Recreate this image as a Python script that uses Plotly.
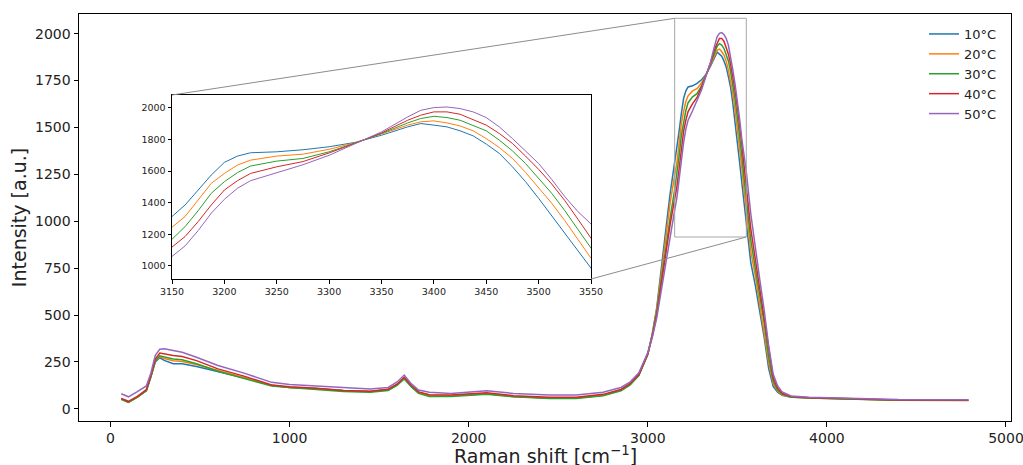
import plotly.graph_objects as go

# ---------------- data ----------------
labels = ["10°C", "20°C", "30°C", "40°C", "50°C"]
colors = ["#1f77b4", "#ff7f0e", "#2ca02c", "#d62728", "#9467bd"]

x_left = [60, 100, 150, 200, 225, 250, 275, 300, 350, 400, 480, 600, 750, 900, 1000,
          1150, 1300, 1450, 1550, 1600, 1640, 1680, 1720, 1780, 1900, 2100, 2250, 2450,
          2600, 2750, 2850, 2900, 2950, 3000, 3025, 3050, 3075, 3100, 3125]
x_zoom = [3150, 3162.5, 3175, 3187.5, 3200, 3212.5, 3225, 3250, 3275, 3300, 3325, 3350,
          3375, 3387.5, 3400, 3412.5, 3425, 3437.5, 3450, 3462.5, 3475, 3487.5, 3500,
          3512.5, 3525, 3537.5, 3550]
x_right = [3575, 3600, 3625, 3650, 3675, 3700, 3725, 3750, 3800, 3900, 4100, 4400, 4790]

y10_left = [52, 36, 62, 98, 170, 250, 272, 258, 240, 240, 226, 200, 164, 125, 113, 108, 97, 92,
            103, 130, 165, 122, 88, 72, 70, 80, 66, 58, 58, 72, 100, 130, 180, 290, 400, 540,
            730, 950, 1150]
y20_left = [52, 36, 62, 98, 172, 255, 278, 268, 256, 252, 236, 204, 166, 125, 113, 107, 96, 91,
            102, 129, 164, 121, 87, 71, 70, 80, 66, 58, 58, 72, 100, 130, 180, 292, 398, 530,
            715, 920, 1100]
y30_left = [50, 34, 62, 96, 170, 255, 283, 276, 266, 261, 240, 200, 163, 122, 113, 104, 92, 88,
            98, 125, 159, 116, 82, 66, 66, 78, 64, 55, 55, 70, 96, 126, 177, 292, 392, 515,
            690, 860, 1020]
y40_left = [55, 40, 66, 102, 176, 265, 297, 292, 284, 279, 257, 213, 173, 127, 118, 110, 98, 93,
            104, 131, 168, 124, 90, 75, 74, 86, 70, 62, 62, 77, 103, 134, 183, 294, 388, 500,
            665, 835, 985]
y50_left = [80, 64, 92, 122, 190, 285, 318, 320, 311, 302, 275, 231, 189, 141, 130, 123, 114, 105,
            114, 143, 180, 133, 100, 88, 82, 96, 82, 73, 73, 88, 114, 142, 192, 300, 380, 485,
            630, 790, 935]

y10_zoom = [1312, 1385, 1480, 1575, 1655, 1695, 1716, 1722, 1735, 1754, 1782, 1827, 1880, 1901,
            1891, 1880, 1855, 1823, 1771, 1712, 1627, 1533, 1427, 1316, 1206, 1101, 985]
y20_zoom = [1244, 1312, 1417, 1522, 1585, 1638, 1669, 1695, 1707, 1738, 1780, 1834, 1891, 1912,
            1918, 1905, 1886, 1855, 1806, 1749, 1680, 1592, 1497, 1396, 1286, 1164, 1048]
y30_zoom = [1168, 1248, 1349, 1459, 1533, 1590, 1632, 1663, 1680, 1722, 1778, 1838, 1905, 1933,
            1947, 1939, 1922, 1891, 1855, 1796, 1728, 1648, 1554, 1459, 1349, 1227, 1112]
y40_zoom = [1118, 1185, 1280, 1385, 1480, 1539, 1585, 1627, 1660, 1715, 1776, 1842, 1922, 1954,
            1975, 1975, 1960, 1926, 1891, 1838, 1775, 1695, 1611, 1518, 1413, 1295, 1175]
y50_zoom = [1059, 1126, 1223, 1333, 1421, 1491, 1539, 1589, 1640, 1700, 1774, 1848, 1943, 1985,
            2002, 2006, 1996, 1975, 1939, 1880, 1806, 1728, 1648, 1547, 1438, 1343, 1265]

y10_right = [780, 660, 520, 380, 215, 120, 88, 72, 62, 58, 54, 46, 45]
y20_right = [840, 710, 560, 420, 245, 135, 95, 75, 63, 58, 54, 46, 45]
y30_right = [900, 750, 600, 455, 275, 150, 100, 78, 63, 57, 52, 45, 44]
y40_right = [960, 800, 640, 485, 300, 165, 110, 83, 65, 59, 55, 47, 46]
y50_right = [1040, 850, 690, 525, 335, 185, 122, 90, 68, 61, 57, 49, 48]

main_xticks = [0, 1000, 2000, 3000, 4000, 5000]
main_yticks = [0, 250, 500, 750, 1000, 1250, 1500, 1750, 2000]
inset_xticks = [3150, 3200, 3250, 3300, 3350, 3400, 3450, 3500, 3550]
inset_yticks = [1000, 1200, 1400, 1600, 1800, 2000]

# ---------------- build ----------------
x_all = x_left + x_zoom + x_right
series = [
    y10_left + y10_zoom + y10_right,
    y20_left + y20_zoom + y20_right,
    y30_left + y30_zoom + y30_right,
    y40_left + y40_zoom + y40_right,
    y50_left + y50_zoom + y50_right,
]

XR = [-176, 5028]
YR = [-65, 2105]
ZX = [3150, 3550]
ZY = [916, 2082]

FONT = "DejaVu Sans"
fig = go.Figure()
for lab, col, ys in zip(labels, colors, series):
    fig.add_trace(go.Scatter(x=x_all, y=ys, mode="lines", name=lab,
                             line=dict(color=col, width=1.5), xaxis="x", yaxis="y"))
for lab, col, ys in zip(labels, colors, series):
    fig.add_trace(go.Scatter(x=x_all, y=ys, mode="lines", name=lab, showlegend=False,
                             line=dict(color=col, width=1), xaxis="x2", yaxis="y2"))

# plot-area geometry
W, H = 1023, 465
ml, mr, mt, mb = 79, 12, 14, 44
pw, ph = W - ml - mr, H - mt - mb
inset_dx = [(172 - ml) / pw, (591 - ml) / pw]
inset_dy = [(H - mb - 279) / ph, (H - mb - 95) / ph]


def px(v):
    return (v - XR[0]) / (XR[1] - XR[0])


def py(v):
    return (v - YR[0]) / (YR[1] - YR[0])


axis_common = dict(showgrid=False, zeroline=False, showline=True, linecolor="black",
                   linewidth=1, mirror=True, ticks="outside", tickcolor="black",
                   tickwidth=1, automargin=False, ticklabeloverflow="allow")

fig.update_layout(
    width=W, height=H,
    margin=dict(l=ml, r=mr, t=mt, b=mb),
    paper_bgcolor="white", plot_bgcolor="white",
    font=dict(family=FONT, color="#222222"),
    xaxis=dict(range=XR, tickvals=main_xticks, tickfont=dict(size=14), domain=[0, 1],
               ticklen=4.5, **axis_common),
    yaxis=dict(range=YR, tickvals=main_yticks, tickfont=dict(size=14), domain=[0, 1],
               ticklen=4.5,
               title=dict(text="Intensity [a.u.]", font=dict(size=19), standoff=3),
               **axis_common),
    xaxis2=dict(range=ZX, tickvals=inset_xticks, tickfont=dict(size=9.5), domain=inset_dx,
                anchor="y2", ticklen=3.5, **axis_common),
    yaxis2=dict(range=ZY, tickvals=inset_yticks, tickfont=dict(size=9.5), domain=inset_dy,
                anchor="x2", ticklen=3.5, **axis_common),
    legend=dict(x=(924 - ml) / pw, y=(H - mb - 19) / ph, xanchor="left", yanchor="top",
                bgcolor="rgba(255,255,255,0)", borderwidth=0, font=dict(size=13),
                tracegroupgap=0),
    showlegend=True,
)

# x-axis title (placed as annotation so it can sit low in the margin like the reference)
fig.add_annotation(text="Raman shift [cm<sup>−1</sup>]", xref="paper", yref="paper",
                   x=0.5, y=0, xanchor="center", yanchor="top", yshift=-20,
                   showarrow=False, font=dict(size=19, family=FONT, color="#222222"))

# zoom indicator box and connectors
fig.add_shape(type="rect", xref="x", yref="y", x0=ZX[0], x1=ZX[1], y0=ZY[0], y1=ZY[1],
              line=dict(color="#a6a6a6", width=1), layer="above")
fig.add_shape(type="line", xref="paper", yref="paper",
              x0=inset_dx[0], y0=inset_dy[1], x1=px(ZX[0]), y1=py(ZY[1]),
              line=dict(color="#8c8c8c", width=1))
fig.add_shape(type="line", xref="paper", yref="paper",
              x0=inset_dx[1], y0=inset_dy[0], x1=px(ZX[1]), y1=py(ZY[0]),
              line=dict(color="#8c8c8c", width=1))

fig.write_html("out.html")
